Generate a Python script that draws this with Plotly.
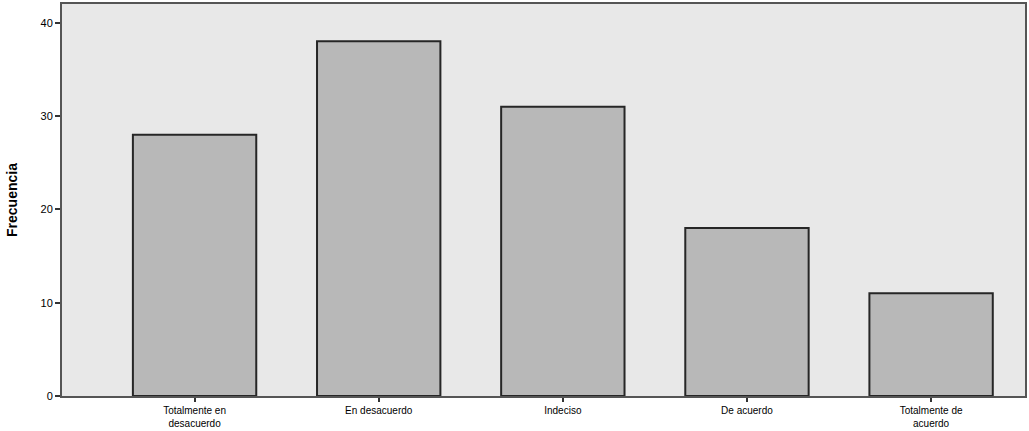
import plotly.graph_objects as go

categories = ["Totalmente en<br>desacuerdo", "En desacuerdo", "Indeciso", "De acuerdo", "Totalmente de<br>acuerdo"]
frecuencia = [28, 38, 31, 18, 11]

FONT = "Liberation Sans, Arial, sans-serif"

fig = go.Figure(
    go.Bar(
        x=list(range(len(categories))),
        y=frecuencia,
        width=0.67,
        marker=dict(color="#b8b8b8", line=dict(color="#262626", width=2)),
    )
)

fig.update_layout(
    width=1029,
    height=431,
    paper_bgcolor="white",
    plot_bgcolor="#e8e8e8",
    margin=dict(l=62, r=2, t=2, b=34),
    font=dict(family=FONT, size=10, color="black"),
    showlegend=False,
)

fig.update_xaxes(
    tickmode="array",
    tickvals=list(range(len(categories))),
    ticktext=categories,
    range=[-0.72, 4.51],
    ticks="outside",
    ticklen=4,
    tickwidth=2,
    tickcolor="#333",
    showline=True,
    linecolor="#555",
    linewidth=2,
    mirror=True,
    showgrid=False,
    zeroline=False,
    tickfont=dict(size=10),
)

fig.update_yaxes(
    range=[0, 42],
    tickvals=[0, 10, 20, 30, 40],
    ticks="outside",
    ticklen=5,
    tickwidth=2,
    tickcolor="#333",
    showline=True,
    linecolor="#555",
    linewidth=2,
    mirror=True,
    showgrid=False,
    zeroline=False,
    tickfont=dict(size=11),
    title=dict(text="<b>Frecuencia</b>", font=dict(size=14), standoff=20),
)

# page body has an 8px default margin; drop it so the chart sits at 0,0
fig.write_html(
    "out.html",
    config={"displayModeBar": False},
    post_script="document.body.style.margin='0';",
)
